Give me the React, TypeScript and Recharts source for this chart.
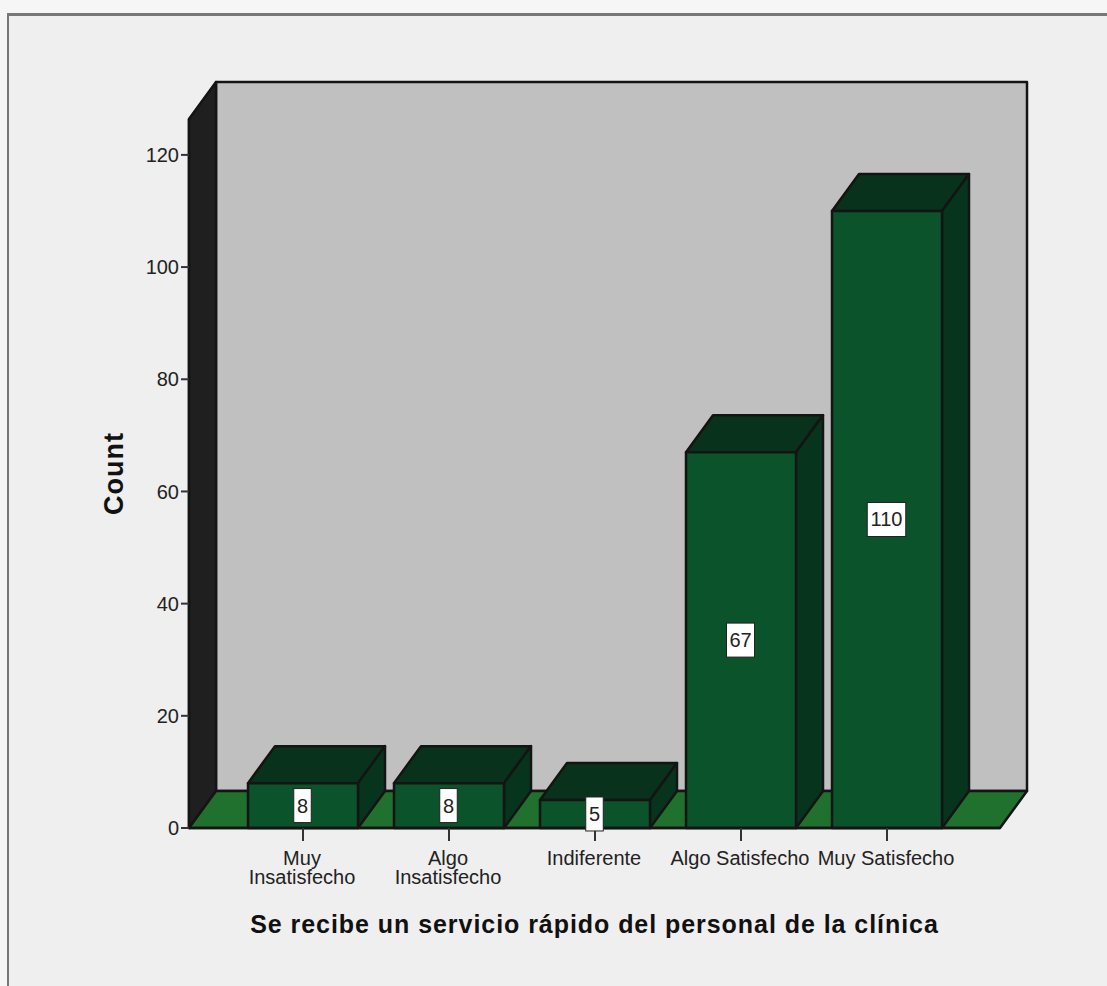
import { Bar, BarChart, LabelList, XAxis, YAxis, usePlotArea } from "recharts";

const categories = ["Muy\nInsatisfecho", "Algo\nInsatisfecho", "Indiferente", "Algo Satisfecho", "Muy Satisfecho"];
const counts = [8, 8, 5, 67, 110];
const countTicks = [0, 20, 40, 60, 80, 100, 120];

const rows = categories.map((name, i) => ({ name, count: counts[i] }));

const DEPTH_X = 27;
const DEPTH_Y = 37;
const EDGE = "#141414";

function Walls() {
  const plot = usePlotArea();
  if (!plot) return null;
  const left = plot.x;
  const right = plot.x + plot.width;
  const top = plot.y;
  const bottom = plot.y + plot.height;
  const pts = (list: number[][]) => list.map((p) => p.join(",")).join(" ");
  return (
    <g stroke={EDGE} strokeWidth={2.5} strokeLinejoin="round">
      <polygon
        points={pts([[left + DEPTH_X, top - DEPTH_Y], [right + DEPTH_X, top - DEPTH_Y], [right + DEPTH_X, bottom - DEPTH_Y], [left + DEPTH_X, bottom - DEPTH_Y]])}
        fill="#c0c0c0"
      />
      <polygon
        points={pts([[left, top], [left + DEPTH_X, top - DEPTH_Y], [left + DEPTH_X, bottom - DEPTH_Y], [left, bottom]])}
        fill="#1f1f1f"
      />
      <polygon
        points={pts([[left, bottom], [left + DEPTH_X, bottom - DEPTH_Y], [right + DEPTH_X, bottom - DEPTH_Y], [right, bottom]])}
        fill="#20702e"
      />
    </g>
  );
}

function Box3D({ x, y, width, height }: any) {
  const r = x + width;
  const b = y + height;
  return (
    <g stroke={EDGE} strokeWidth={2.5} strokeLinejoin="round">
      <polygon
        points={`${x},${y} ${x + DEPTH_X},${y - DEPTH_Y} ${r + DEPTH_X},${y - DEPTH_Y} ${r},${y}`}
        fill="#08321b"
      />
      <polygon
        points={`${r},${y} ${r + DEPTH_X},${y - DEPTH_Y} ${r + DEPTH_X},${b - DEPTH_Y} ${r},${b}`}
        fill="#07341c"
      />
      <rect x={x} y={y} width={width} height={height} fill="#0b532b" />
    </g>
  );
}

function ValueBox({ x, y, width, height, value }: any) {
  const w = 7 + 10.5 * String(value).length;
  const h = 34;
  const cx = x + width / 2 - 0.5;
  const cy = y + height / 2;
  return (
    <g>
      <rect x={cx - w / 2} y={cy - h / 2} width={w} height={h} fill="#fff" stroke="#222" strokeWidth={1} />
      <text x={cx} y={cy + 7} textAnchor="middle" fontSize={20} fontFamily="Liberation Sans" fill="#222">
        {value}
      </text>
    </g>
  );
}

function CategoryTick({ x, y, payload }: any) {
  const lines = String(payload.value).split("\n");
  return (
    <g>
      {lines.map((line, i) => (
        <text
          key={line}
          x={x - 1}
          y={y + 22 + i * 19}
          textAnchor="middle"
          fontSize={20}
          fontFamily="Liberation Sans"
          fill="#222"
        >
          {line}
        </text>
      ))}
    </g>
  );
}

export default function App() {
  return (
    <div style={{ position: "absolute", left: 0, top: 0, width: 1107, height: 986, background: "#f6f6f6", overflow: "hidden" }}>
      <div
        style={{
          position: "absolute",
          left: 7,
          top: 13,
          width: 1100,
          height: 973,
          boxSizing: "border-box",
          background: "#efefef",
          borderTop: "3px solid #777",
          borderLeft: "2px solid #777",
        }}
      />
      <div style={{ position: "absolute", left: 0, top: 0 }}>
        <BarChart
          width={1107}
          height={986}
          data={rows}
          margin={{ top: 119, right: 107, bottom: 58, left: 89 }}
          barSize={110}
        >
          <Walls />
          <XAxis
            dataKey="name"
            interval={0}
            height={100}
            padding={{ left: 41, right: 40 }}
            tick={<CategoryTick />}
            tickSize={13}
            tickLine={{ stroke: "#333", strokeWidth: 2 }}
            axisLine={{ stroke: EDGE, strokeWidth: 2.5 }}
            label={{
              value: "Se recibe un servicio rápido del personal de la clínica",
              position: "center",
              dy: 46,
              fontSize: 25,
              fontWeight: 700,
              fontFamily: "Liberation Sans",
              fill: "#111",
              letterSpacing: 0.95,
            }}
          />
          <YAxis
            type="number"
            width={100}
            domain={[0, 126.4]}
            ticks={countTicks}
            tickSize={8}
            tick={{ fontSize: 20, fontFamily: "Liberation Sans", fill: "#222" }}
            tickLine={{ stroke: "#333", strokeWidth: 2 }}
            axisLine={{ stroke: EDGE, strokeWidth: 2.5 }}
            label={{
              value: "Count",
              angle: -90,
              position: "center",
              dx: -26,
              fontSize: 27,
              fontWeight: 700,
              fontFamily: "Liberation Sans",
              fill: "#111",
              letterSpacing: 1,
            }}
          />
          <Bar dataKey="count" shape={<Box3D />} isAnimationActive={false}>
            <LabelList dataKey="count" content={<ValueBox />} />
          </Bar>
        </BarChart>
      </div>
    </div>
  );
}
